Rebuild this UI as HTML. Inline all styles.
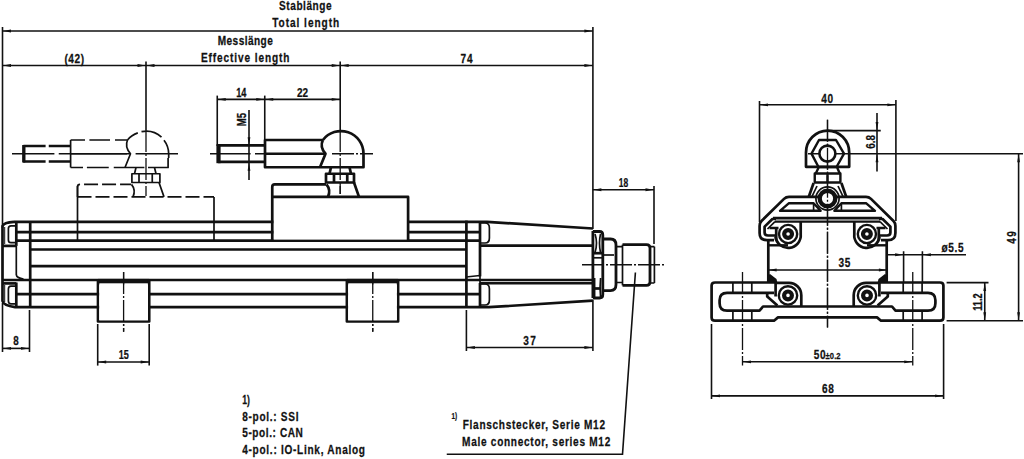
<!DOCTYPE html>
<html><head><meta charset="utf-8"><style>
html,body{margin:0;padding:0;background:#fff;}
body{width:1024px;height:459px;overflow:hidden;}
svg{display:block;}
.t{stroke:#111;stroke-width:1.6;fill:none;}
.c{stroke:#111;stroke-width:1.3;fill:none;stroke-dasharray:22 2 2 2;}
.T{stroke:#111;stroke-width:2.7;fill:none;stroke-linejoin:round;}
.T2{stroke:#111;stroke-width:3;fill:none;}
.T3{stroke:#111;stroke-width:2.8;fill:none;stroke-linejoin:round;}
.M{stroke:#111;stroke-width:1.7;fill:none;stroke-linejoin:round;}
.m{stroke:#111;stroke-width:1;fill:none;}
.P{stroke:#111;stroke-width:2.8;fill:none;stroke-linejoin:round;}
.H{stroke:#111;stroke-width:1.6;fill:none;stroke-dasharray:14 4;}
.PH{stroke:#111;stroke-width:2.8;fill:none;stroke-dasharray:22 3;}
.F{fill:#111;stroke:none;}
.A{fill:#111;stroke:none;}
.E{stroke:#111;stroke-width:2.7;fill:none;stroke-linejoin:round;}
.E2{stroke:#111;stroke-width:2.4;fill:none;stroke-linejoin:round;}
.E3{stroke:#111;stroke-width:3;fill:#fff;}
.E4{stroke:#111;stroke-width:4.2;fill:#fff;}
.E6{stroke:#111;stroke-width:2.6;fill:#fff;}
.E5{stroke:#111;stroke-width:4.4;fill:#fff;}
.x{font-family:"Liberation Sans",sans-serif;font-weight:bold;font-size:12.6px;fill:#111;stroke:#111;stroke-width:0.25;}
</style></head><body>
<svg width="1024" height="459" viewBox="0 0 1024 459">
<line class="t" x1="2.5" y1="27" x2="2.5" y2="228"/>
<line class="t" x1="2.5" y1="303" x2="2.5" y2="352"/>
<line class="t" x1="592.9" y1="27" x2="592.9" y2="229"/>
<line class="t" x1="592.9" y1="300" x2="592.9" y2="351"/>
<line class="t" x1="2.5" y1="31" x2="592.9" y2="31"/>
<polygon class="A" points="3,31 11,29.6 11,32.4"/>
<polygon class="A" points="592.4,31 584.4,32.4 584.4,29.6"/>
<line class="t" x1="2.5" y1="65.5" x2="592.9" y2="65.5"/>
<polygon class="A" points="3,65.5 11,64.1 11,66.9"/>
<polygon class="A" points="145.5,65.5 137.5,66.9 137.5,64.1"/>
<polygon class="A" points="146.5,65.5 154.5,64.1 154.5,66.9"/>
<polygon class="A" points="339.7,65.5 331.7,66.9 331.7,64.1"/>
<polygon class="A" points="340.7,65.5 348.7,64.1 348.7,66.9"/>
<polygon class="A" points="592.4,65.5 584.4,66.9 584.4,64.1"/>
<line class="t" x1="146" y1="61.5" x2="146" y2="130"/>
<line class="t" x1="340.2" y1="61.5" x2="340.2" y2="130"/>
<line class="t" x1="217.25" y1="99.4" x2="340.2" y2="99.4"/>
<line class="t" x1="217.25" y1="95.6" x2="217.25" y2="146"/>
<line class="t" x1="264.75" y1="95.6" x2="264.75" y2="139"/>
<polygon class="A" points="217.75,99.4 225.75,98 225.75,100.8"/>
<polygon class="A" points="264.25,99.4 256.25,100.8 256.25,98"/>
<polygon class="A" points="265.25,99.4 273.25,98 273.25,100.8"/>
<polygon class="A" points="339.7,99.4 331.7,100.8 331.7,98"/>
<line class="t" x1="249" y1="110" x2="249" y2="180"/>
<polygon class="A" points="249,145.2 247.6,137.2 250.4,137.2"/>
<polygon class="A" points="249,162.8 250.4,170.8 247.6,170.8"/>
<line class="t" x1="592.9" y1="189.75" x2="654" y2="189.75"/>
<line class="t" x1="654" y1="186" x2="654" y2="244"/>
<polygon class="A" points="593.4,189.75 601.4,188.35 601.4,191.15"/>
<polygon class="A" points="653.5,189.75 645.5,191.15 645.5,188.35"/>
<line class="t" x1="2.5" y1="348.4" x2="29.5" y2="348.4"/>
<line class="t" x1="29.5" y1="310" x2="29.5" y2="352"/>
<polygon class="A" points="3,348.4 11,347 11,349.8"/>
<polygon class="A" points="29,348.4 21,349.8 21,347"/>
<line class="t" x1="97.7" y1="362" x2="149.2" y2="362"/>
<line class="t" x1="97.7" y1="324" x2="97.7" y2="365.6"/>
<line class="t" x1="149.2" y1="324" x2="149.2" y2="365.6"/>
<polygon class="A" points="98.2,362 106.2,360.6 106.2,363.4"/>
<polygon class="A" points="148.7,362 140.7,363.4 140.7,360.6"/>
<line class="t" x1="466.4" y1="347.5" x2="592.9" y2="347.5"/>
<line class="t" x1="466.4" y1="310" x2="466.4" y2="351"/>
<polygon class="A" points="466.9,347.5 474.9,346.1 474.9,348.9"/>
<polygon class="A" points="592.4,347.5 584.4,348.9 584.4,346.1"/>
<path class="t" d="M635.4,272.5 L622.5,454.25 L446.75,454.25"/>
<line class="t" x1="759.5" y1="104.8" x2="895.9" y2="104.8"/>
<line class="t" x1="759.5" y1="101" x2="759.5" y2="222"/>
<line class="t" x1="895.9" y1="100" x2="895.9" y2="221"/>
<polygon class="A" points="760,104.8 768,103.4 768,106.2"/>
<polygon class="A" points="895.4,104.8 887.4,106.2 887.4,103.4"/>
<line class="t" x1="877" y1="113" x2="877" y2="171.5"/>
<line class="t" x1="827.5" y1="130.6" x2="880.75" y2="130.6"/>
<polygon class="A" points="877,130.1 875.6,122.1 878.4,122.1"/>
<polygon class="A" points="877,154.25 878.4,162.25 875.6,162.25"/>
<line class="t" x1="850" y1="153.75" x2="1023" y2="153.75"/>
<line class="t" x1="1018.6" y1="153.75" x2="1018.6" y2="320.75"/>
<polygon class="A" points="1018.6,154.25 1020,162.25 1017.2,162.25"/>
<polygon class="A" points="1018.6,320.25 1017.2,312.25 1020,312.25"/>
<line class="t" x1="946.6" y1="282.6" x2="988.5" y2="282.6"/>
<line class="t" x1="946.6" y1="320.75" x2="1023" y2="320.75"/>
<line class="t" x1="984.75" y1="282.6" x2="984.75" y2="320.75"/>
<polygon class="A" points="984.75,283.1 986.15,291.1 983.35,291.1"/>
<polygon class="A" points="984.75,320.25 983.35,312.25 986.15,312.25"/>
<line class="t" x1="887.4" y1="254.75" x2="966" y2="254.75"/>
<line class="t" x1="903.6" y1="251.25" x2="903.6" y2="282"/>
<line class="t" x1="922.4" y1="251.25" x2="922.4" y2="282"/>
<polygon class="A" points="903.1,254.75 895.1,256.15 895.1,253.35"/>
<polygon class="A" points="922.9,254.75 930.9,253.35 930.9,256.15"/>
<line class="t" x1="768.1" y1="270" x2="887.4" y2="270"/>
<polygon class="A" points="768.6,270 776.6,268.6 776.6,271.4"/>
<polygon class="A" points="886.9,270 878.9,271.4 878.9,268.6"/>
<line class="t" x1="742.5" y1="361.8" x2="912.75" y2="361.8"/>
<polygon class="A" points="743,361.8 751,360.4 751,363.2"/>
<polygon class="A" points="912.25,361.8 904.25,363.2 904.25,360.4"/>
<line class="t" x1="711.5" y1="395.9" x2="943.6" y2="395.9"/>
<line class="t" x1="711.5" y1="324" x2="711.5" y2="399"/>
<line class="t" x1="943.6" y1="324" x2="943.6" y2="399"/>
<polygon class="A" points="712,395.9 720,394.5 720,397.3"/>
<polygon class="A" points="943.1,395.9 935.1,397.3 935.1,394.5"/>
<path class="t" d="M12,153.75 L54.4,153.75 M58.75,153.75 L130.6,153.75 M135.6,153.75 L178,153.75"/>
<line class="c" x1="146" y1="130" x2="146" y2="196"/>
<line class="c" x1="332" y1="153.75" x2="373" y2="153.75"/>
<line class="c" x1="340.2" y1="130" x2="340.2" y2="194"/>
<line class="c" x1="123.6" y1="272" x2="123.6" y2="331.7"/>
<line class="c" x1="372.75" y1="272" x2="372.75" y2="331.7"/>
<line class="c" x1="582" y1="264.75" x2="664.75" y2="264.75"/>
<line class="c" x1="827.5" y1="119.75" x2="827.5" y2="327.5"/>
<line class="c" x1="808" y1="153.75" x2="850" y2="153.75"/>
<line class="c" x1="742.5" y1="272" x2="742.5" y2="365.5"/>
<line class="c" x1="912.75" y1="272" x2="912.75" y2="365.5"/>
<path class="T" d="M14,221.9 L487,221.9 L592.9,228.5"/>
<path class="T" d="M14,221.9 Q4,222.5 2.5,226 L2.5,301 Q3.5,305.5 15,307.2 L489,307.2 L592.9,300.6"/>
<line class="T" x1="2.5" y1="245.9" x2="16.3" y2="245.9"/>
<line class="T" x1="2.5" y1="283.4" x2="16.3" y2="283.4"/>
<line class="T" x1="16.3" y1="222" x2="16.3" y2="245.9"/>
<line class="M" x1="16.3" y1="245.9" x2="16.3" y2="275"/>
<path class="M" d="M16.3,275 Q17,278 23.5,279"/>
<line class="T" x1="16.3" y1="282.5" x2="16.3" y2="306.5"/>
<line class="T" x1="30.2" y1="222" x2="30.2" y2="306.4"/>
<line class="T" x1="16.3" y1="232.2" x2="480" y2="232.2"/>
<line class="T" x1="16.3" y1="240.7" x2="480" y2="240.7"/>
<line class="T" x1="30.2" y1="249.5" x2="466.4" y2="249.5"/>
<line class="T" x1="30.2" y1="266.1" x2="466.4" y2="266.1"/>
<line class="T" x1="2.5" y1="280" x2="592.9" y2="280"/>
<line class="T" x1="16.3" y1="294.1" x2="480" y2="294.1"/>
<line class="T" x1="480" y1="245.6" x2="592.9" y2="245.6"/>
<line class="T" x1="480" y1="283.25" x2="592.9" y2="283.25"/>
<line class="T" x1="466.4" y1="220.6" x2="466.4" y2="306.4"/>
<line class="T" x1="480" y1="222" x2="480" y2="276.4"/>
<line class="T" x1="480" y1="283" x2="480" y2="307"/>
<path class="M" d="M466,277 L480,275.5 L480,283"/>
<path class="M" d="M480,223 L485,223 Q489.4,223 489.4,228 L489.4,238 Q489.4,243 485,243 L480,243"/>
<path class="M" d="M480,284 L485,284 Q489.4,284 489.4,289 L489.4,300 Q489.4,305 485,305 L480,305"/>
<path class="M" d="M16.3,225.8 L11,225.8 Q8.4,225.8 8.4,228.5 L8.4,240 Q8.4,242.7 11,242.7 L16.3,242.7"/>
<path class="M" d="M16.3,286.2 L11,286.2 Q8.4,286.2 8.4,289 L8.4,301 Q8.4,303.8 11,303.8 L16.3,303.8"/>
<line class="m" x1="4.7" y1="227" x2="4.7" y2="244"/>
<line class="m" x1="4.7" y1="285" x2="4.7" y2="302"/>
<rect class="F" x="98" y="278.9" width="51.2" height="4.4"/>
<path class="T" d="M98,280 L98,321.5 L149.2,321.5 L149.2,280"/>
<rect x="99.2" y="284.5" width="48.8" height="35.8" fill="#fff"/>
<rect class="F" x="346.9" y="278.9" width="51.2" height="4.4"/>
<path class="T" d="M346.9,280 L346.9,321.5 L398.1,321.5 L398.1,280"/>
<rect x="348.1" y="284.5" width="48.8" height="35.8" fill="#fff"/>
<line class="c" x1="123.6" y1="272" x2="123.6" y2="331.7"/>
<line class="c" x1="372.75" y1="272" x2="372.75" y2="331.7"/>
<rect x="273.4" y="198" width="133.6" height="41.5" fill="#fff"/>
<path class="T" d="M272.25,240.6 L272.25,186.9 Q272.25,184.4 274.75,184.4 L326,184.4"/>
<path class="T" d="M272.25,196.9 L408.1,196.9 L408.1,240.6"/>
<line class="c" x1="340.2" y1="184" x2="340.2" y2="194"/>
<path class="H" d="M77.5,196.9 L77.5,186.9 Q77.5,184.4 80,184.4 L131,184.4"/>
<path class="H" d="M77.5,196.9 L214,196.9"/>
<line class="M" x1="77.5" y1="186" x2="77.5" y2="240.6"/>
<line class="M" x1="214" y1="196.9" x2="214" y2="240.6"/>
<path class="P" d="M265,145.4 L218.5,145.4 L218.5,161.9 L265,161.9"/>
<rect class="F" x="216.4" y="144.2" width="4.2" height="19"/>
<path class="t" d="M210,153.75 L250.6,153.75 M255,153.75 L265,153.75"/>
<path class="T" d="M322.9,140 L265,140 L265,167.25 L363.5,167.25 L363.5,153.75 A22.6,22.6 0 0 0 322.9,140"/>
<path class="T" d="M265,153.75 L326,153.75"/>
<path class="T" d="M322.9,140 Q319.5,147 325.5,153.75 L320,167.25"/>
<path class="T" d="M331,167.25 L329.5,173.75 M349.5,167.25 L351,173.75"/>
<rect class="T" x="326" y="173.75" width="28" height="8.75"/>
<path class="T" d="M334,173.75 L334,182.5 M347.25,173.75 L347.25,182.5"/>
<path class="T" d="M326.5,184.4 Q331,190 328,196.9 M354,182.5 L359,196.9"/>
<path class="T" d="M45.6,146 L24,146 L24,161.5 L45.6,161.5 M48.75,146 L70.6,146 M48.75,161.5 L70.6,161.5"/>
<rect class="F" x="22.2" y="145" width="3" height="17.5"/>
<path class="M" d="M70.6,140 L70.6,167.5"/>
<path class="M" d="M70.6,140 L85,140 M89.4,140 L110,140 M115,140 L127.5,140"/>
<path class="M" d="M70.6,167.5 L83,167.5 M86.9,167.5 L108.75,167.5 M113.75,167.5 L144.4,167.5 M148,167.5 L168.1,167.5 L168.1,158"/>
<path class="M" d="M70.6,153.75 L127,153.75"/>
<path class="M" d="M127.5,140 Q124.5,147 130.5,153.75 L125,167.5"/>
<path class="M" d="M127.5,140 A22.5,22.5 0 0 1 137.8,132.9 M141.5,131.7 A22.5,22.5 0 0 1 161.5,137.2 M164,140.2 A22.5,22.5 0 0 1 168.7,153.75 L168.7,158"/>
<path class="M" d="M136,167.5 L134.5,173.75 M154.5,167.5 L156,173.75"/>
<rect class="M" x="131.9" y="173.75" width="28" height="8.75"/>
<path class="M" d="M139,173.75 L139,182.5 M152.25,173.75 L152.25,182.5"/>
<path class="M" d="M131.5,184.4 Q136,190 133,196.9 M159,182.5 L164,196.9"/>
<path class="T3" d="M592.9,231.5 L599.5,231.5 Q602.8,231.5 602.8,235 L602.8,294.5 Q602.8,298 599.5,298 L592.9,298"/>
<path class="T3" d="M592.9,231 L592.9,298"/>
<path class="M" d="M595,234 Q598,243 595,252.5 M600.5,234 Q598.5,243 600.5,252.5"/>
<path class="T" d="M594,253.2 L602,253.2"/>
<path class="M" d="M594,257.8 L602,257.8"/>
<path class="M" d="M594.6,278 L594.6,297 M600.6,278 Q599.5,288 600.6,297"/>
<path class="T" d="M594.6,288.5 L601,288.5"/>
<path class="T3" d="M602.8,239 L610.5,239 Q616,239 616,245 L616,284.6 Q616,290.6 610.5,290.6 L602.8,290.6"/>
<path class="M" d="M602.8,255 L614,255"/>
<path class="M" d="M616,246.6 L622.5,246.6 M616,282.5 L622.5,282.5"/>
<path class="T3" d="M622.5,244.6 L646.5,244.6 Q650,244.6 650,248 L650,282 Q650,285.4 646.5,285.4 L622.5,285.4"/>
<line class="M" x1="622.5" y1="244.6" x2="622.5" y2="285.4"/>
<line class="M" x1="654.4" y1="246.6" x2="654.4" y2="283"/>
<path class="M" d="M650,246.6 L654.4,246.6 M650,283 L654.4,283"/>
<path class="E" d="M806,166.8 L806,152.5 A21.6,21.9 0 0 1 849.2,152.5 L849.2,166.8 Z"/>
<polygon class="E2" points="811.5,153.6 819,140 836,140 844,153.6 836.5,167 818.5,167"/>
<circle class="E6" cx="827.4" cy="153.6" r="8"/>
<path class="E2" d="M818.5,167.75 L815.75,173.5 M837.25,167.75 L839.75,173.5"/>
<rect class="E2" x="814.75" y="173.5" width="25.65" height="9"/>
<line class="E2" x1="827.5" y1="173.5" x2="827.5" y2="182.5"/>
<path class="E" d="M813.6,183 L808.8,196.8"/>
<path class="M" d="M817,186 L811.8,196.8"/>
<path class="E" d="M827.5,196.8 L789,196.8 Q786.1,196.8 784,198.9 L761.5,221 Q759.6,223 759.6,226 L759.6,233 Q759.6,240.2 767,240.2 L774,240.2"/>
<polygon class="E2" points="788.7,203.3 813.6,203.3 820.6,210.8 780,210.8"/>
<path class="M" d="M813.6,203.3 L813.6,210.8"/>
<path class="E" d="M776,219 L772.4,219 L764.6,226.6 L764.6,232.5 Q764.6,235.5 768,235.5 L776,235.5"/>
<path class="M" d="M775,221.6 L767.5,229"/>
<path class="E" d="M769.5,228 L778.5,228 M776.2,228 L776.2,240"/>
<path class="E" d="M773,218.1 L827.5,218.1"/>
<path class="E2" d="M775,221.6 L827.5,221.6"/>
<circle class="E2" cx="788.1" cy="234" r="9.1"/>
<circle class="E4" cx="788.1" cy="234" r="3.9"/>
<path class="E" d="M775.5,236.5 A12.6,12.6 0 0 0 800.7,234 L800.7,222"/>
<path class="E2" d="M768.3,245.3 L788,245.3"/>
<line class="E" x1="768.3" y1="240" x2="768.3" y2="282"/>
<polygon class="F" points="767.2,276 770,274 776.5,279 777.5,283 767.2,283"/>
<path class="E" d="M827.5,317.4 L778,317.4 L774,320.7 L715,320.7 Q711.6,320.7 711.6,317.5 L711.6,285.6 Q711.6,282.5 715,282.5 L776,282.5"/>
<path class="E" d="M774,292.8 L727,292.8 Q719.6,292.8 719.6,300.2 L719.6,303.3 Q719.6,310.7 727,310.7 L759.5,310.7 L763,306.5 L827.5,306.5"/>
<path class="E" d="M775.6,282.5 L775.6,296.5"/>
<path class="E" d="M767.2,292.8 L767.2,296.5 L777.4,305.5"/>
<path class="E" d="M776,282.8 L789,282.8 A12.5,12.5 0 0 1 801.3,295.3 L801.3,306.5"/>
<circle class="E2" cx="788" cy="295.4" r="9.2"/>
<circle class="E4" cx="788" cy="295.4" r="3.9"/>
<line class="M" x1="732.9" y1="282.5" x2="732.9" y2="292.8"/>
<line class="M" x1="732.9" y1="310.7" x2="732.9" y2="320.7"/>
<line class="M" x1="751.8" y1="282.5" x2="751.8" y2="292.8"/>
<line class="M" x1="751.8" y1="310.7" x2="751.8" y2="320.7"/>
<g transform="matrix(-1,0,0,1,1655,0)">
<path class="E" d="M813.6,183 L808.8,196.8"/>
<path class="M" d="M817,186 L811.8,196.8"/>
<path class="E" d="M827.5,196.8 L789,196.8 Q786.1,196.8 784,198.9 L761.5,221 Q759.6,223 759.6,226 L759.6,233 Q759.6,240.2 767,240.2 L774,240.2"/>
<polygon class="E2" points="788.7,203.3 813.6,203.3 820.6,210.8 780,210.8"/>
<path class="M" d="M813.6,203.3 L813.6,210.8"/>
<path class="E" d="M776,219 L772.4,219 L764.6,226.6 L764.6,232.5 Q764.6,235.5 768,235.5 L776,235.5"/>
<path class="M" d="M775,221.6 L767.5,229"/>
<path class="E" d="M769.5,228 L778.5,228 M776.2,228 L776.2,240"/>
<path class="E" d="M773,218.1 L827.5,218.1"/>
<path class="E2" d="M775,221.6 L827.5,221.6"/>
<circle class="E2" cx="788.1" cy="234" r="9.1"/>
<circle class="E4" cx="788.1" cy="234" r="3.9"/>
<path class="E" d="M775.5,236.5 A12.6,12.6 0 0 0 800.7,234 L800.7,222"/>
<path class="E2" d="M768.3,245.3 L788,245.3"/>
<line class="E" x1="768.3" y1="240" x2="768.3" y2="282"/>
<polygon class="F" points="767.2,276 770,274 776.5,279 777.5,283 767.2,283"/>
<path class="E" d="M827.5,317.4 L778,317.4 L774,320.7 L715,320.7 Q711.6,320.7 711.6,317.5 L711.6,285.6 Q711.6,282.5 715,282.5 L776,282.5"/>
<path class="E" d="M774,292.8 L727,292.8 Q719.6,292.8 719.6,300.2 L719.6,303.3 Q719.6,310.7 727,310.7 L759.5,310.7 L763,306.5 L827.5,306.5"/>
<path class="E" d="M775.6,282.5 L775.6,296.5"/>
<path class="E" d="M767.2,292.8 L767.2,296.5 L777.4,305.5"/>
<path class="E" d="M776,282.8 L789,282.8 A12.5,12.5 0 0 1 801.3,295.3 L801.3,306.5"/>
<circle class="E2" cx="788" cy="295.4" r="9.2"/>
<circle class="E4" cx="788" cy="295.4" r="3.9"/>
<line class="M" x1="732.9" y1="282.5" x2="732.9" y2="292.8"/>
<line class="M" x1="732.9" y1="310.7" x2="732.9" y2="320.7"/>
<line class="M" x1="751.8" y1="282.5" x2="751.8" y2="292.8"/>
<line class="M" x1="751.8" y1="310.7" x2="751.8" y2="320.7"/>
</g>
<circle class="M" cx="827.5" cy="198.5" r="11.6"/>
<circle class="E5" cx="827.5" cy="198.5" r="7.8"/>
<line class="c" x1="827.5" y1="119.75" x2="827.5" y2="327.5"/>
<text class="x" x="-0" y="0" transform="translate(279.1 9.75) scale(0.8 1)" textLength="65.62" lengthAdjust="spacing">Stablänge</text>
<text class="x" x="-0" y="0" transform="translate(272.25 26.9) scale(0.8 1)" textLength="83.62" lengthAdjust="spacing">Total length</text>
<text class="x" x="-0" y="0" transform="translate(217.75 44.75) scale(0.8 1)" textLength="68.75" lengthAdjust="spacing">Messlänge</text>
<text class="x" x="-0" y="0" transform="translate(201 61.9) scale(0.8 1)" textLength="110.5" lengthAdjust="spacing">Effective length</text>
<text class="x" x="-0" y="0" transform="translate(64.4 62.5) scale(0.8 1)" textLength="24.5" lengthAdjust="spacing">(42)</text>
<text class="x" x="-0" y="0" transform="translate(460.6 62.75) scale(0.8 1)" textLength="14.88" lengthAdjust="spacing">74</text>
<text class="x" x="-0" y="0" transform="translate(236.25 96.9) scale(0.73 1)">14</text>
<text class="x" x="-0" y="0" transform="translate(296.9 96.9) scale(0.79 1)">22</text>
<text class="x" x="-0" y="0" transform="translate(246.25 126.25) rotate(-90) scale(0.76 1)">M5</text>
<text class="x" x="-0" y="0" transform="translate(618.75 186.9) scale(0.67 1)">18</text>
<text class="x" x="-0" y="0" transform="translate(13.3 345) scale(0.78 1)">8</text>
<text class="x" x="-0" y="0" transform="translate(118.75 359) scale(0.72 1)">15</text>
<text class="x" x="-0" y="0" transform="translate(523.25 345) scale(0.8 1)" textLength="15.63" lengthAdjust="spacing">37</text>
<text class="x" x="-0" y="0" transform="translate(821.2 102.7) scale(0.8 1)" textLength="14.88" lengthAdjust="spacing">40</text>
<text class="x" x="-0" y="0" transform="translate(874.75 148.75) rotate(-90) scale(0.79 1)">6.8</text>
<text class="x" x="-0" y="0" transform="translate(1016 243.75) rotate(-90) scale(0.8 1)" textLength="15.63" lengthAdjust="spacing">49</text>
<text class="x" x="-0" y="0" transform="translate(982.25 310.75) rotate(-90) scale(0.73 1)">11.2</text>
<text class="x" x="-0" y="0" transform="translate(941.6 252.25) scale(0.8 1)" textLength="27.37" lengthAdjust="spacing">ø5.5</text>
<text class="x" x="-0" y="0" transform="translate(838.6 267.25) scale(0.8 1)" textLength="14.57" lengthAdjust="spacing">35</text>
<text class="x" x="-0" y="0" transform="translate(813.75 359.4) scale(0.8 1)" textLength="14.82" lengthAdjust="spacing">50</text>
<text class="x" x="-0" y="0" transform="translate(825.6 359.4) scale(0.8 1)" textLength="18.75" lengthAdjust="spacing" style="font-size:9.5px">±0.2</text>
<text class="x" x="-0" y="0" transform="translate(821.9 393.1) scale(0.8 1)" textLength="14.82" lengthAdjust="spacing">68</text>
<text class="x" x="-0" y="0" transform="translate(242.25 403.75) scale(0.69 1)">1)</text>
<text class="x" x="-0" y="0" transform="translate(242.25 420.6) scale(0.8 1)" textLength="70.31" lengthAdjust="spacing">8-pol.: SSI</text>
<text class="x" x="-0" y="0" transform="translate(242.25 437.25) scale(0.8 1)" textLength="75.81" lengthAdjust="spacing">5-pol.: CAN</text>
<text class="x" x="-0" y="0" transform="translate(242.25 454.4) scale(0.8 1)" textLength="153.44" lengthAdjust="spacing">4-pol.: IO-Link, Analog</text>
<text class="x" x="-0" y="0" transform="translate(451.5 418.9) scale(0.7 1)" style="font-size:9px">1)</text>
<text class="x" x="-0" y="0" transform="translate(462.75 428.9) scale(0.8 1)" textLength="177.81" lengthAdjust="spacing">Flanschstecker, Serie M12</text>
<text class="x" x="-0" y="0" transform="translate(462.1 445.75) scale(0.8 1)" textLength="185.19" lengthAdjust="spacing">Male connector, series M12</text>
</svg>
</body></html>
